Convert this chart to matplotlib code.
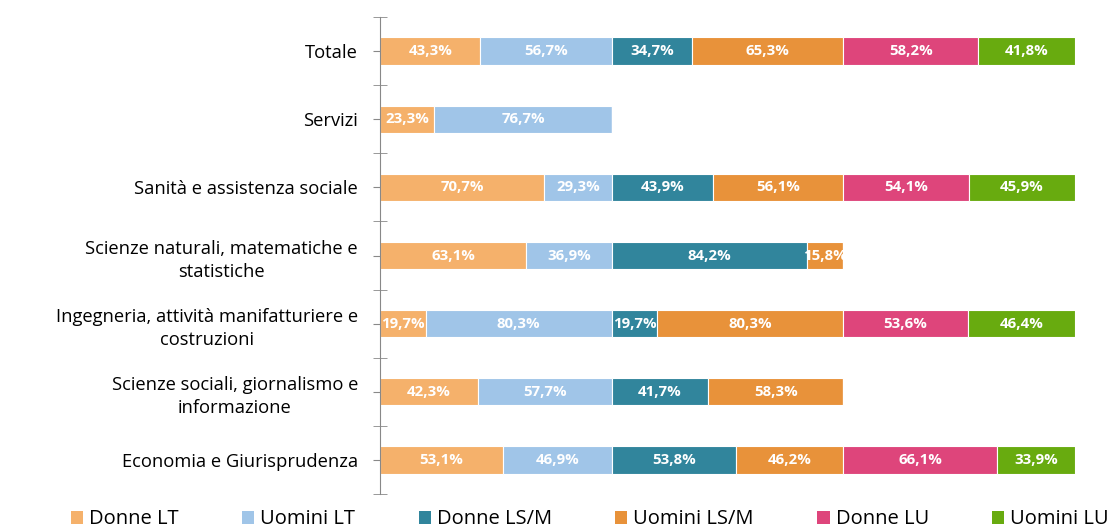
import numpy as np
import matplotlib.pyplot as plt
from matplotlib.patches import Patch
from matplotlib.ticker import FixedLocator

plt.rcParams['font.family'] = ['Open Sans', 'DejaVu Sans']

# =========================
# DATA
# =========================
categories = [
    "Totale",
    "Servizi",
    "Sanità e assistenza sociale",
    "Scienze naturali, matematiche e\nstatistiche",
    "Ingegneria, attività manifatturiere e\ncostruzioni",
    "Scienze sociali, giornalismo e\ninformazione",
    "Economia e Giurisprudenza",
]
series_names = ["Donne LT", "Uomini LT", "Donne LS/M", "Uomini LS/M", "Donne LU", "Uomini LU"]

donne_lt = [43.3, 23.3, 70.7, 63.1, 19.7, 42.3, 53.1]
uomini_lt = [56.7, 76.7, 29.3, 36.9, 80.3, 57.7, 46.9]
donne_lsm = [34.7, 0, 43.9, 84.2, 19.7, 41.7, 53.8]
uomini_lsm = [65.3, 0, 56.1, 15.8, 80.3, 58.3, 46.2]
donne_lu = [58.2, 0, 54.1, 0, 53.6, 0, 66.1]
uomini_lu = [41.8, 0, 45.9, 0, 46.4, 0, 33.9]

colors = ["#F5B16B", "#A0C5E8", "#31859C", "#E8923A", "#DE457B", "#68AB0F"]

# =========================
# PLOT
# =========================
fig = plt.figure(figsize=(11.1, 5.29), dpi=100)
ax = fig.add_axes([0.3425, 0.066, 0.626, 0.902])

y = np.arange(len(categories))
left = np.zeros(len(categories))
all_series = [donne_lt, uomini_lt, donne_lsm, uomini_lsm, donne_lu, uomini_lu]

for vals, col in zip(all_series, colors):
    vals = np.array(vals)
    ax.barh(y, vals, left=left, height=0.4, color=col, edgecolor="white", linewidth=0.8)
    for yi, l, v in zip(y, left, vals):
        if v > 0:
            ax.text(l + v / 2, yi, f"{v:.1f}%".replace(".", ","), ha="center", va="center",
                    color="white", fontsize=10.8, fontweight="bold")
    left = left + vals

ax.set_xlim(0, 300)
ax.set_ylim(len(categories) - 0.5, -0.5)
ax.set_xticks([])
ax.set_yticks(y)
ax.set_yticklabels(categories, fontsize=13.2, multialignment="center", linespacing=1.4)
ax.yaxis.set_minor_locator(FixedLocator(np.arange(-0.5, len(categories), 1)))
ax.tick_params(axis="y", which="major", length=5, color="#888888", pad=11)
ax.tick_params(axis="y", which="minor", length=10, color="#888888", direction="inout")

for s in ["top", "right", "bottom"]:
    ax.spines[s].set_visible(False)
ax.spines["left"].set_color("#888888")

handles = [Patch(facecolor=c, label=n) for c, n in zip(colors, series_names)]
fig.legend(handles=handles, loc="lower center", bbox_to_anchor=(0.5315, -0.035), ncol=6,
           frameon=False, fontsize=14.5,
           handlelength=0.6, handleheight=0.6, handletextpad=0.3, columnspacing=3.15)

fig.savefig("out.png", dpi=100)
